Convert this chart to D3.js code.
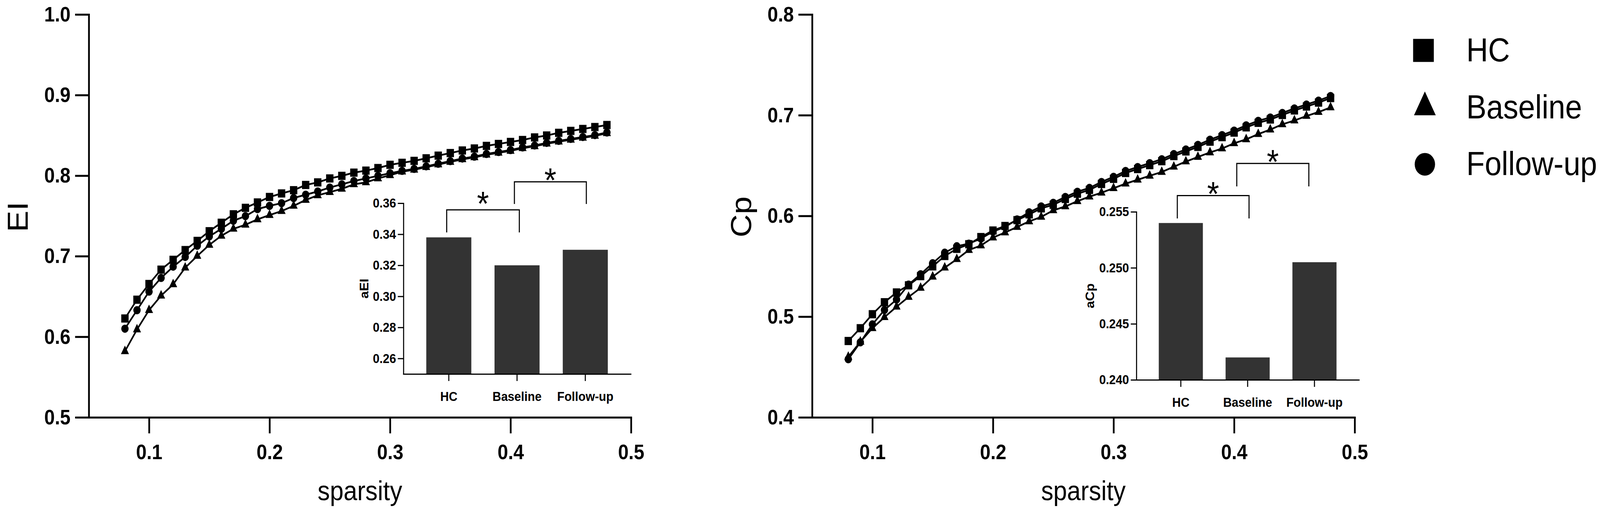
<!DOCTYPE html>
<html><head><meta charset="utf-8">
<script src="https://cdn.jsdelivr.net/npm/d3@7"></script>
<style>
html,body{margin:0;padding:0;background:#fff;overflow:hidden;width:100%;height:100%}
svg{display:block;width:100vw;height:100vh}
text{font-family:"Liberation Sans",Arial,Helvetica,sans-serif;fill:#000}
</style>
</head><body>
<svg id="c" viewBox="0 0 4559 1323" preserveAspectRatio="none"></svg>
<script>
// ---------- data ----------
const sparsity = [0.08,0.09,0.10,0.11,0.12,0.13,0.14,0.15,0.16,0.17,0.18,0.19,0.20,0.21,0.22,0.23,0.24,0.25,0.26,0.27,0.28,0.29,0.30,0.31,0.32,0.33,0.34,0.35,0.36,0.37,0.38,0.39,0.40,0.41,0.42,0.43,0.44,0.45,0.46,0.47,0.48];

const eiHC = [0.6227,0.6460,0.6655,0.6833,0.6955,0.7076,0.7190,0.7310,0.7415,0.7520,0.7600,0.7667,0.7735,0.7779,0.7819,0.7884,0.7916,0.7965,0.7997,0.8037,0.8062,0.8094,0.8134,0.8159,0.8183,0.8215,0.8248,0.8280,0.8312,0.8337,0.8369,0.8393,0.8418,0.8442,0.8474,0.8498,0.8531,0.8555,0.8579,0.8603,0.8628];
const eiBaseline = [0.5820,0.6090,0.6330,0.6510,0.6650,0.6857,0.7003,0.7140,0.7253,0.7340,0.7390,0.7457,0.7510,0.7560,0.7625,0.7698,0.7755,0.7795,0.7836,0.7892,0.7916,0.7965,0.8005,0.8049,0.8073,0.8105,0.8138,0.8170,0.8202,0.8226,0.8259,0.8283,0.8307,0.8340,0.8364,0.8396,0.8421,0.8445,0.8469,0.8493,0.8526];
const eiFollowUp = [0.6100,0.6330,0.6560,0.6730,0.6870,0.6990,0.7130,0.7245,0.7340,0.7440,0.7497,0.7585,0.7625,0.7658,0.7722,0.7763,0.7803,0.7852,0.7892,0.7933,0.7965,0.7997,0.8030,0.8059,0.8083,0.8115,0.8148,0.8180,0.8212,0.8236,0.8269,0.8293,0.8317,0.8350,0.8374,0.8406,0.8431,0.8455,0.8479,0.8503,0.8536];

const cpHC = [0.4758,0.4885,0.5024,0.5143,0.5240,0.5311,0.5402,0.5499,0.5602,0.5673,0.5719,0.5790,0.5855,0.5900,0.5958,0.6015,0.6075,0.6110,0.6168,0.6220,0.6258,0.6317,0.6368,0.6426,0.6465,0.6504,0.6543,0.6594,0.6640,0.6685,0.6737,0.6782,0.6827,0.6879,0.6924,0.6957,0.7002,0.7047,0.7086,0.7125,0.7170];
const cpBaseline = [0.4600,0.4750,0.4885,0.4994,0.5098,0.5195,0.5285,0.5396,0.5486,0.5570,0.5661,0.5706,0.5785,0.5835,0.5890,0.5945,0.5990,0.6055,0.6094,0.6146,0.6191,0.6230,0.6275,0.6320,0.6359,0.6398,0.6436,0.6488,0.6540,0.6585,0.6630,0.6669,0.6721,0.6760,0.6812,0.6857,0.6909,0.6947,0.6992,0.7031,0.7077];
const cpFollowUp = [0.4577,0.4745,0.4923,0.5066,0.5169,0.5318,0.5421,0.5531,0.5635,0.5699,0.5725,0.5775,0.5845,0.5890,0.5965,0.6036,0.6094,0.6130,0.6188,0.6240,0.6278,0.6337,0.6388,0.6446,0.6485,0.6524,0.6563,0.6614,0.6660,0.6705,0.6757,0.6802,0.6847,0.6899,0.6944,0.6977,0.7022,0.7067,0.7106,0.7145,0.7190];

const groups = ["HC","Baseline","Follow-up"];
const aEI = [0.338,0.320,0.330];
const aCp = [0.2540,0.2420,0.2505];

const sparsityTicks = [0.1,0.2,0.3,0.4,0.5];
const eiTicks = [0.5,0.6,0.7,0.8,0.9,1.0];
const cpTicks = [0.4,0.5,0.6,0.7,0.8];
const aEITicks = [0.26,0.28,0.30,0.32,0.34,0.36];
const aCpTicks = [0.240,0.245,0.250,0.255];

// significance brackets (in data units of the inset y axis)
const eiBrackets = [
  {from:"HC", to:"Baseline", top:0.3557, foot:0.3412, label:"*"},
  {from:"Baseline", to:"Follow-up", top:0.3738, foot:0.3595, label:"*"}
];
const cpBrackets = [
  {from:"HC", to:"Baseline", top:0.25645, foot:0.25441, label:"*"},
  {from:"Baseline", to:"Follow-up", top:0.25932, foot:0.25727, label:"*"}
];

// ---------- drawing ----------
const svg = d3.select("#c");
svg.append("rect").attr("width",4559).attr("height",1323).attr("fill","#fff");

function shapePath(shape, s){
  if(shape==="square") return `M${-s/2},${-s/2}h${s}v${s}h${-s}Z`;
  if(shape==="circle") return d3.symbol(d3.symbolCircle, Math.PI*(s/2)*(s/2))();
  const w = s, h = s*0.95;
  return `M0,${-2*h/3}L${w/2},${h/3}L${-w/2},${h/3}Z`;
}

const seriesShapes = ["square","triangle","circle"];

function drawMain(cfg){
  const x = d3.scaleLinear().domain([0.05,0.5]).range([cfg.x0,cfg.x1]);
  const y = d3.scaleLinear().domain(cfg.yDomain).range([1068,37]);
  const g = svg.append("g");

  const ax = g.append("g").attr("transform","translate(0,1068)")
    .call(d3.axisBottom(x).tickValues(sparsityTicks).tickFormat(d3.format(".1f")).tickSize(41).tickSizeOuter(0).tickPadding(28));
  const ay = g.append("g").attr("transform",`translate(${cfg.x0},0)`)
    .call(d3.axisLeft(y).tickValues(cfg.yTicks).tickFormat(d3.format(".1f")).tickSize(39).tickSizeOuter(0).tickPadding(13));
  [ax,ay].forEach(a=>{
    a.select(".domain").attr("stroke","#000").attr("stroke-width",5).attr("stroke-linecap","square");
    a.selectAll(".tick line").attr("stroke","#000").attr("stroke-width",5);
    a.selectAll(".tick text").attr("font-size",54).attr("font-weight","bold").attr("fill","#000")
      .style("font-family",'"Liberation Sans",Arial,sans-serif');
  });

  const line = d3.line().x((d,i)=>x(sparsity[i])).y(d=>y(d));
  cfg.series.forEach((vals,k)=>{
    g.append("path").attr("d",line(vals)).attr("fill","none").attr("stroke","#000").attr("stroke-width",4.5);
  });
  cfg.series.forEach((vals,k)=>{
    const sz = seriesShapes[k]==="triangle"?23:21;
    g.append("g").selectAll("path").data(vals).join("path")
      .attr("d",shapePath(seriesShapes[k],sz))
      .attr("transform",(d,i)=>`translate(${x(sparsity[i])},${y(d)})`)
      .attr("fill","#000");
  });

  g.append("text").attr("x",(cfg.x0+cfg.x1)/2).attr("y",1280).attr("text-anchor","middle")
    .attr("font-size",70).text("sparsity");
  g.append("text").attr("transform",`translate(${cfg.x0-174},555) rotate(-90)`).attr("text-anchor","middle")
    .attr("font-size",82).text(cfg.ylabel);
}

function drawInset(cfg){
  const x = d3.scaleBand().domain(groups).range([cfg.x0,cfg.x1]).paddingInner(0.34).paddingOuter(0.335);
  const y = d3.scaleLinear().domain(cfg.yDomain).range([cfg.yBottom,cfg.yTop]);
  const g = svg.append("g");
  g.append("g").selectAll("rect").data(cfg.values).join("rect")
    .attr("x",(d,i)=>x(groups[i])).attr("width",x.bandwidth())
    .attr("y",d=>y(d)).attr("height",d=>cfg.yBottom-y(d)).attr("fill","#333333");

  const ax = g.append("g").attr("transform",`translate(0,${cfg.yBottom})`)
    .call(d3.axisBottom(x).tickSize(18).tickSizeOuter(0).tickPadding(27));
  const ay = g.append("g").attr("transform",`translate(${cfg.x0},0)`)
    .call(d3.axisLeft(y).tickValues(cfg.ticks).tickFormat(d3.format(cfg.fmt)).tickSize(16).tickSizeOuter(0).tickPadding(5));
  [ax,ay].forEach(a=>{
    a.select(".domain").attr("stroke","#000").attr("stroke-width",3).attr("stroke-linecap","square");
    a.selectAll(".tick line").attr("stroke","#000").attr("stroke-width",3);
    a.selectAll(".tick text").attr("font-size",34).attr("font-weight","bold").attr("fill","#000")
      .style("font-family",'"Liberation Sans",Arial,sans-serif');
  });
  g.append("text").attr("transform",`translate(${cfg.x0-cfg.labelOff},${(cfg.yTop+cfg.yBottom)/2}) rotate(-90)`)
    .attr("text-anchor","middle").attr("font-size",34).attr("font-weight","bold").text(cfg.ylabel);

  cfg.brackets.forEach((b,i)=>{
    const xa = x(b.from)+x.bandwidth()/2+cfg.dx[i][0];
    const xb = x(b.to)+x.bandwidth()/2+cfg.dx[i][1];
    const yt = y(b.top), yf = y(b.foot);
    g.append("path").attr("d",`M${xa},${yf}V${yt}H${xb}V${yf}`)
      .attr("fill","none").attr("stroke","#000").attr("stroke-width",3);
    g.append("text").attr("x",(xa+xb)/2).attr("y",yt-cfg.starGap[i]+38).attr("text-anchor","middle")
      .attr("font-size",88).text(b.label);
  });
}

drawMain({x0:253,x1:1798,yDomain:[0.5,1.0],yTicks:eiTicks,series:[eiHC,eiBaseline,eiFollowUp],ylabel:"EI"});
drawMain({x0:2314,x1:3860,yDomain:[0.4,0.8],yTicks:cpTicks,series:[cpHC,cpBaseline,cpFollowUp],ylabel:"Cp"});

drawInset({x0:1149.5,x1:1797,yTop:520,yBottom:957,yDomain:[0.25,0.36],ticks:aEITicks,fmt:".2f",
  values:aEI,ylabel:"aEI",labelOff:100,brackets:eiBrackets,dx:[[-6,6.5],[-7.5,3]],starGap:[24,12]});
drawInset({x0:3238,x1:3872,yTop:542,yBottom:972,yDomain:[0.240,0.255],ticks:aCpTicks,fmt:".3f",
  values:aCp,ylabel:"aCp",labelOff:120,brackets:cpBrackets,dx:[[-10,4],[-31,-16]],starGap:[12,12]});

// legend
const lg = svg.append("g");
groups.forEach((name,i)=>{
  const base = 157 + i*145.7;
  const shape = seriesShapes[i];
  let p;
  if(shape==="triangle"){ const w=62,h=61; p=`M0,${-2*h/3}L${w/2},${h/3}L${-w/2},${h/3}Z`; }
  else p = shapePath(shape, shape==="square"?59:58);
  lg.append("path").attr("d",p).attr("transform",`translate(${shape==="square"?4056:4060},${base-28})`).attr("fill","#000");
  lg.append("text").attr("x",4178).attr("y",base).attr("font-size",86).text(name);
});
</script>
</body></html>
